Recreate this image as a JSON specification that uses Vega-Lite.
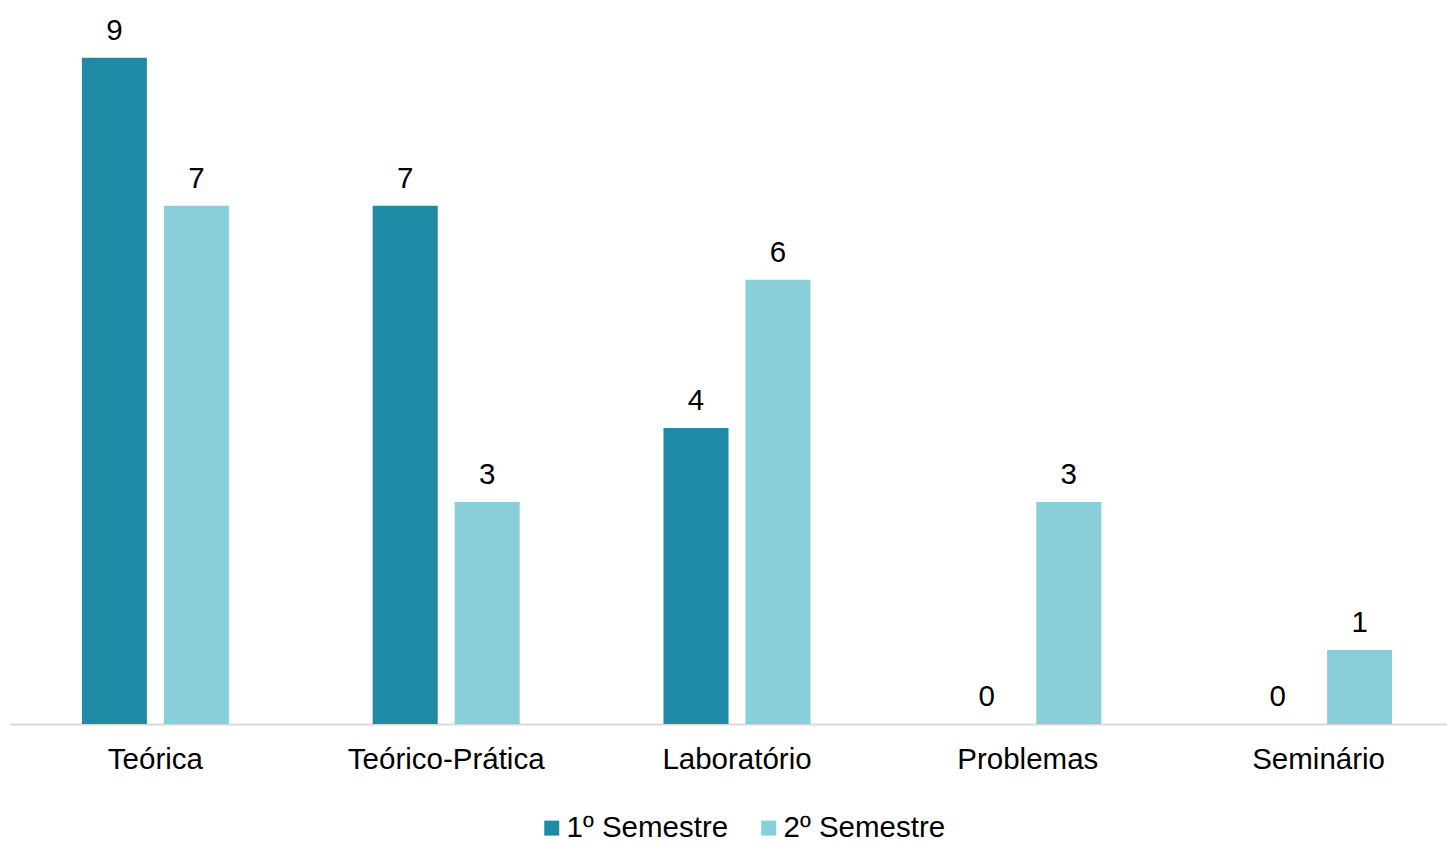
{
  "$schema": "https://vega.github.io/schema/vega-lite/v6.json",
  "width": 1454,
  "height": 724,
  "padding": {"left": 10, "top": 0, "right": 0, "bottom": 0},
  "background": "white",
  "config": {"view": {"stroke": null}, "font": "Liberation Sans"},
  "data": {"values": [
    {"tipo": "Teórica", "semestre": "1º Semestre", "n": 9},
    {"tipo": "Teórica", "semestre": "2º Semestre", "n": 7},
    {"tipo": "Teórico-Prática", "semestre": "1º Semestre", "n": 7},
    {"tipo": "Teórico-Prática", "semestre": "2º Semestre", "n": 3},
    {"tipo": "Laboratório", "semestre": "1º Semestre", "n": 4},
    {"tipo": "Laboratório", "semestre": "2º Semestre", "n": 6},
    {"tipo": "Problemas", "semestre": "1º Semestre", "n": 0},
    {"tipo": "Problemas", "semestre": "2º Semestre", "n": 3},
    {"tipo": "Seminário", "semestre": "1º Semestre", "n": 0},
    {"tipo": "Seminário", "semestre": "2º Semestre", "n": 1}
  ]},
  "encoding": {
    "x": {"field": "tipo", "type": "nominal", "sort": null,
      "scale": {"paddingInner": 0.4944, "paddingOuter": 0.2472},
      "axis": {"title": null, "labelAngle": 0, "labelFontSize": 29.5, "labelColor": "#000000", "labelPadding": 21, "labelLimit": 0,
        "ticks": false, "domainColor": "#d9d9d9", "domainWidth": 2, "labelFont": "Liberation Sans"}},
    "xOffset": {"field": "semestre", "type": "nominal", "scale": {"paddingInner": 0.207, "paddingOuter": 0}},
    "y": {"field": "n", "type": "quantitative", "scale": {"domain": [0, 9.78], "nice": false}, "axis": null}
  },
  "layer": [
    {"mark": {"type": "bar"},
     "encoding": {"color": {"field": "semestre", "type": "nominal",
       "scale": {"range": ["#1f8aa5", "#89cfda"]},
       "legend": {"title": null, "orient": "none", "legendX": 527, "legendY": 813, "direction": "horizontal", "labelFontSize": 29.5, "labelColor": "#000000", "labelLimit": 0,
         "symbolType": "square", "symbolSize": 225, "symbolStrokeWidth": 0, "columnPadding": 25, "labelOffset": 0, "labelFont": "Liberation Sans"}}}},
    {"mark": {"type": "text", "baseline": "alphabetic", "dy": -18, "fontSize": 29.5, "color": "#000000", "font": "Liberation Sans"},
     "encoding": {"text": {"field": "n", "type": "quantitative"}}}
  ]
}
